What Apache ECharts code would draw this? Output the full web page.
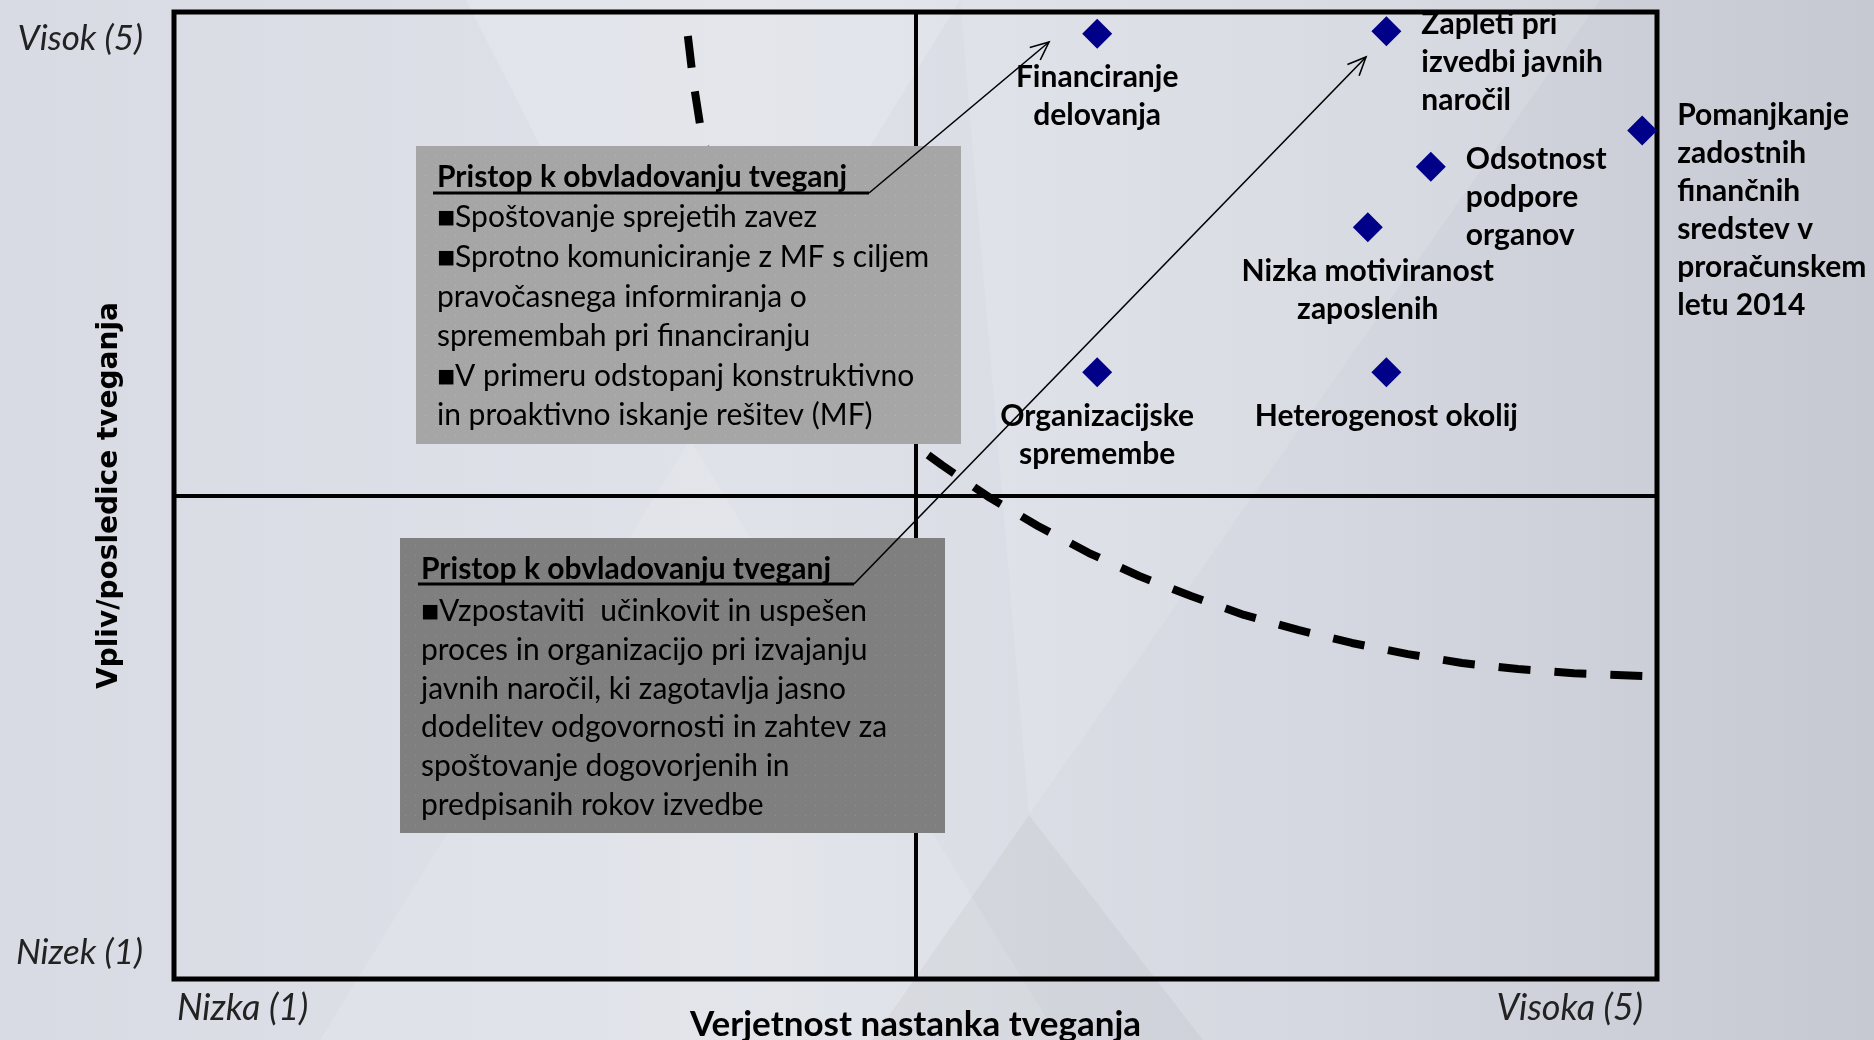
<!DOCTYPE html>
<html>
<head>
<meta charset="utf-8">
<title>Matrika tveganj</title>
<script src="https://cdn.jsdelivr.net/npm/echarts@6/dist/echarts.min.js"></script>
<style>
html,body{margin:0;padding:0;}
#main{width:1874px;height:1040px;}
</style>
</head>
<body>
<div id="main"></div>
<script>
// tveganja: verjetnost (x) in vpliv (y), lestvica 1-5
var riskNames = [
	'Financiranje\ndelovanja',
	'Zapleti pri\nizvedbi javnih\nnaročil',
	'Pomanjkanje\nzadostnih\nfinančnih\nsredstev v\nproračunskem\nletu 2014',
	'Odsotnost\npodpore\norganov',
	'Nizka motiviranost\nzaposlenih',
	'Organizacijske\nspremembe',
	'Heterogenost okolij'
];
var riskX = [3.49, 4.27, 4.96, 4.39, 4.22, 3.49, 4.27];
var riskY = [4.91, 4.92, 4.51, 4.36, 4.11, 3.51, 3.51];

// meja tolerance (crtkana krivulja)
var curveX = [2.386, 2.400, 2.419, 2.457, 2.519, 2.613, 2.756, 2.910, 3.071, 3.201, 3.330, 3.468, 3.603, 3.743, 3.886, 4.032, 4.177, 4.328, 4.474, 4.625, 4.776, 4.973];
var curveY = [4.901, 4.719, 4.533, 4.284, 4.016, 3.755, 3.519, 3.308, 3.126, 2.990, 2.874, 2.762, 2.667, 2.584, 2.506, 2.444, 2.390, 2.344, 2.307, 2.282, 2.265, 2.253];

// oznake osi
var xTickLabels = {1: 'Nizka (1)', 5: 'Visoka (5)'};
var yTickLabels = {1: 'Nizek (1)', 5: 'Visok (5)'};
var xName = 'Verjetnost nastanka tveganja';
var yName = 'Vpliv/posledice tveganja';

// besedilo v okvirjih
var boxTitle = 'Pristop k obvladovanju tveganj';
var box1Lines = [
	'■Spoštovanje sprejetih zavez',
	'■Sprotno komuniciranje z MF s ciljem',
	'pravočasnega informiranja o',
	'spremembah pri financiranju',
	'■V primeru odstopanj konstruktivno',
	'in proaktivno iskanje rešitev (MF)'
];
var box2Lines = [
	'■Vzpostaviti  učinkovit in uspešen',
	'proces in organizacijo pri izvajanju',
	'javnih naročil, ki zagotavlja jasno',
	'dodelitev odgovornosti in zahtev za',
	'spoštovanje dogovorjenih in',
	'predpisanih rokov izvedbe'
];

var FONT = 'Lato, "Noto Sans", sans-serif';

// postavitev oznak ob tockah
var labelBelow = {position: [15, 40], align: 'center', verticalAlign: 'top'};
var labelRight = {position: [50, -11], align: 'left', verticalAlign: 'top'};
var labelRightHigh = {position: [50, -19], align: 'left', verticalAlign: 'top'};
var labelPlacement = [labelBelow, labelRight, labelRightHigh, labelRight, labelBelow, labelBelow, labelBelow];

var riskData = [];
for (var i = 0; i < riskNames.length; i++) {
	riskData.push({
		name: riskNames[i],
		value: [riskX[i], riskY[i]],
		label: labelPlacement[i]
	});
}
var curveData = [];
for (var i = 0; i < curveX.length; i++) {
	curveData.push([curveX[i], curveY[i]]);
}

//puscica (odprta konica)
function arrowHead(from, to, len, ang) {
	var a = Math.atan2(to[1] - from[1], to[0] - from[0]);
	return [
		[to[0] - len * Math.cos(a - ang), to[1] - len * Math.sin(a - ang)],
		to,
		[to[0] - len * Math.cos(a + ang), to[1] - len * Math.sin(a + ang)]
	];
}

//pikcasta podlaga okvirja
function dotted(base, dot) {
	var c = document.createElement('canvas');
	c.width = 10; c.height = 10;
	var ctx = c.getContext('2d');
	ctx.fillStyle = base;
	ctx.fillRect(0, 0, 10, 10);
	ctx.fillStyle = dot;
	ctx.fillRect(5, 5, 1, 1);
	return {image: c, repeat: 'repeat'};
}

function calloutGraphics(box, textX, titleTop, bodyTop, bodyLineH, lines, underline, tip) {
	var els = [];
	els.push({type: 'rect', z: 50, shape: {x: box[0], y: box[1], width: box[2], height: box[3]}, style: {fill: dotted(box[4], box[5])}});
	els.push({type: 'text', z: 51, x: textX, y: titleTop, style: {text: boxTitle, fill: '#000', fontSize: 30, fontWeight: 'bold', fontFamily: FONT, lineHeight: 34}});
	els.push({type: 'text', z: 51, x: textX, y: bodyTop, style: {text: lines.join('\n'), fill: '#000', fontSize: 30, fontFamily: FONT, lineHeight: bodyLineH}});
	els.push({type: 'polyline', z: 52, shape: {points: underline}, style: {stroke: '#000', lineWidth: 3, fill: null}});
	var start = underline[underline.length - 1];
	els.push({type: 'polyline', z: 52, shape: {points: [start, tip]}, style: {stroke: '#000', lineWidth: 1.6, fill: null}});
	els.push({type: 'polyline', z: 52, shape: {points: arrowHead(start, tip, 20, 0.42)}, style: {stroke: '#000', lineWidth: 1.6, fill: null}});
	return els;
}

var bgGraphics = [
	{type: 'rect', z: -100, shape: {x: 0, y: 0, width: 1874, height: 1040}, style: {
		fill: new echarts.graphic.LinearGradient(0, 0, 1, 0, [
			{offset: 0, color: '#d8dbe3'},
			{offset: 0.4, color: '#dfe2e9'},
			{offset: 0.7, color: '#d5d8e0'},
			{offset: 1, color: '#c6c9d2'}
		])
	}},
	{type: 'polygon', z: -99, shape: {points: [[466, 0], [960, 0], [690, 440]]}, style: {fill: 'rgba(255,255,255,0.16)'}},
	{type: 'polygon', z: -99, shape: {points: [[690, 440], [320, 1040], [1060, 1040]]}, style: {fill: 'rgba(255,255,255,0.12)'}},
	{type: 'polygon', z: -99, shape: {points: [[960, 0], [1600, 0], [1029, 815]]}, style: {fill: 'rgba(255,255,255,0.12)'}},
	{type: 'polygon', z: -99, shape: {points: [[1029, 815], [872, 1040], [1203, 1040]]}, style: {fill: 'rgba(0,0,0,0.035)'}}
];

var graphics = bgGraphics
	.concat(calloutGraphics([416, 146, 545, 298, '#a6a6a6', '#b8b8b8'], 437, 160, 198, 39.6, box1Lines,
		[[433, 193], [869, 193]], [1049, 42]))
	.concat(calloutGraphics([400, 538, 545, 295, '#7f7f7f', '#929292'], 421, 552, 592, 38.8, box2Lines,
		[[418, 584], [854, 584]], [1366, 57]));

var myChart = echarts.init(document.getElementById('main'));
var option = {
	animation: false,
	graphic: graphics,
	grid: {
		left: 174, right: 217, top: 12, bottom: 61,
		outerBoundsMode: 'none',
		show: true, borderColor: '#000', borderWidth: 5, backgroundColor: 'transparent'
	},
	xAxis: {
		type: 'value', min: 1, max: 5, interval: 1,
		axisLine: {show: false}, axisTick: {show: false}, splitLine: {show: false},
		axisLabel: {
			margin: 11,
			formatter: function (v) {
				if (v === 1) return '{min|' + xTickLabels[1] + '}';
				if (v === 5) return '{max|' + xTickLabels[5] + '}';
				return '';
			},
			alignMinLabel: 'left', alignMaxLabel: 'right',
			fontFamily: FONT, fontStyle: 'italic', fontSize: 36, color: '#222',
			rich: {
				min: {fontFamily: FONT, fontStyle: 'italic', fontSize: 36, color: '#222', padding: [0, 0, 0, 3]},
				max: {fontFamily: FONT, fontStyle: 'italic', fontSize: 36, color: '#222', padding: [0, 14, 0, 0]}
			}
		},
		name: xName, nameLocation: 'middle', nameGap: 28, nameMoveOverlap: false,
		nameTextStyle: {fontFamily: FONT, fontWeight: 'bold', fontSize: 35, color: '#000'}
	},
	yAxis: {
		type: 'value', min: 1, max: 5, interval: 1,
		axisLine: {show: false}, axisTick: {show: false}, splitLine: {show: false},
		axisLabel: {
			margin: 31,
			formatter: function (v) { return yTickLabels[v] || ''; },
			verticalAlignMinLabel: 'bottom', verticalAlignMaxLabel: 'top',
			fontFamily: FONT, fontStyle: 'italic', fontSize: 35, lineHeight: 53, color: '#222'
		},
		name: yName, nameLocation: 'middle', nameGap: 50, nameMoveOverlap: false,
		nameTextStyle: {fontFamily: '"DejaVu Sans", sans-serif', fontWeight: 'bold', fontSize: 28, color: '#000'}
	},
	series: [
		{
			type: 'line',
			data: curveData,
			smooth: false,
			symbol: 'none',
			silent: true,
			z: 3,
			lineStyle: {color: '#000', width: 8, type: [32, 24], join: 'round'}
		},
		{
			type: 'scatter',
			data: riskData,
			symbol: 'diamond',
			symbolSize: 30,
			z: 4,
			itemStyle: {color: '#000088', opacity: 1},
			label: {
				show: true,
				formatter: '{b}',
				fontFamily: FONT, fontWeight: 'bold', fontSize: 30, lineHeight: 38, color: '#000'
			},
			markLine: {
				silent: true,
				symbol: ['none', 'none'],
				label: {show: false},
				lineStyle: {color: '#000', width: 4, type: 'solid'},
				data: [{xAxis: 3}, {yAxis: 3}]
			}
		}
	]
};
myChart.setOption(option);
</script>
</body>
</html>
